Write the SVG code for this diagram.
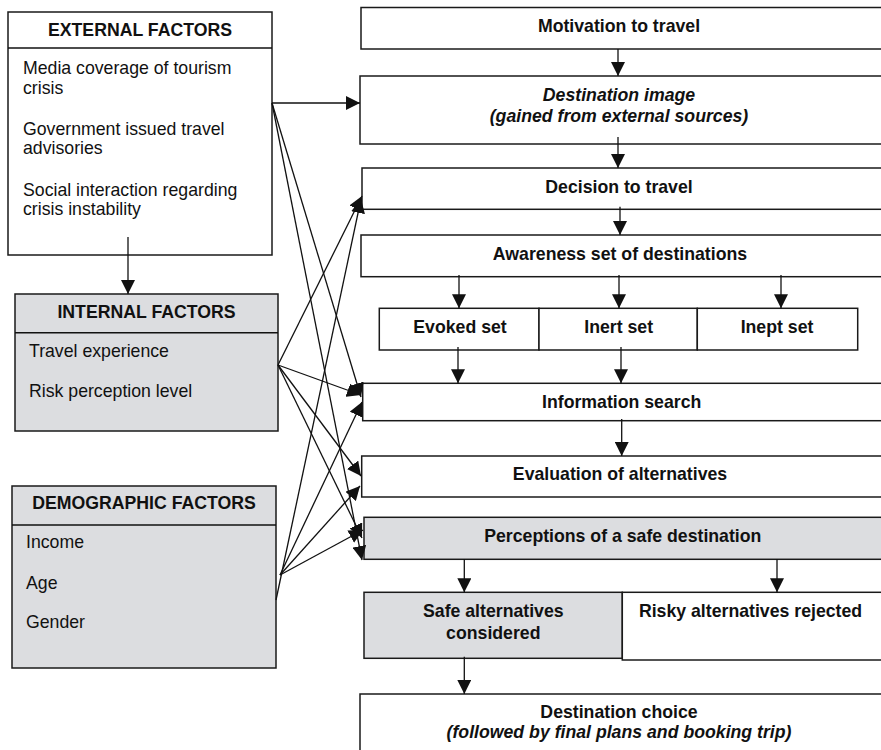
<svg xmlns="http://www.w3.org/2000/svg" width="881" height="750" viewBox="0 0 881 750">
<style>
.box{fill:#fff;stroke:#1a1a1a;stroke-width:1.5}
.g{fill:#dcdde0}
.t{font-family:"Liberation Sans",Arial,sans-serif;font-size:17.7px;fill:#111}
.b{font-weight:bold}
.i{font-style:italic}
.c{text-anchor:middle}
.ln{stroke:#111;stroke-width:1.3;fill:none}
</style>
<defs>
<marker id="ah" markerUnits="userSpaceOnUse" markerWidth="14" markerHeight="14" viewBox="0 0 12 12" refX="12" refY="6" orient="auto">
<path d="M0,0 L12,6 L0,12 z" fill="#111"/>
</marker>
</defs>
<rect width="881" height="750" fill="#fff"/>

<g id="external">
<rect class="box" x="8" y="12" width="264" height="243"/>
<line class="ln" x1="8" y1="48" x2="272" y2="48" style="stroke-width:1.5"/>
<text class="t b c" x="140" y="35.7">EXTERNAL FACTORS</text>
<text class="t" x="23" y="74">Media coverage of tourism</text>
<text class="t" x="23" y="94">crisis</text>
<text class="t" x="23" y="135">Government issued travel</text>
<text class="t" x="23" y="154">advisories</text>
<text class="t" x="23" y="196">Social interaction regarding</text>
<text class="t" x="23" y="215">crisis instability</text>
</g>

<g id="internal">
<rect class="box g" x="15" y="294" width="263" height="137"/>
<line class="ln" x1="15" y1="332.7" x2="278" y2="332.7" style="stroke-width:1.5"/>
<text class="t b c" x="146.5" y="318.3">INTERNAL FACTORS</text>
<text class="t" x="29" y="356.7">Travel experience</text>
<text class="t" x="29" y="396.7">Risk perception level</text>
</g>

<g id="demographic">
<rect class="box g" x="12" y="486" width="264" height="182"/>
<line class="ln" x1="12" y1="525" x2="276" y2="525" style="stroke-width:1.5"/>
<text class="t b c" x="144" y="509">DEMOGRAPHIC FACTORS</text>
<text class="t" x="26" y="548">Income</text>
<text class="t" x="26" y="589">Age</text>
<text class="t" x="26" y="628">Gender</text>
</g>

<g id="motivation">
<rect class="box" x="361" y="7.5" width="522" height="41.5"/>
<text class="t b c" x="619" y="32">Motivation to travel</text>
</g>

<g id="destination-image">
<rect class="box" x="360" y="76" width="523" height="68"/>
<text class="t b i c" x="619" y="100.7">Destination image</text>
<text class="t b i c" x="619" y="121.7">(gained from external sources)</text>
</g>

<g id="decision">
<rect class="box" x="362" y="168" width="521" height="41.3"/>
<text class="t b c" x="619" y="192.7">Decision to travel</text>
</g>

<g id="awareness">
<rect class="box" x="361" y="235" width="522" height="41.7"/>
<text class="t b c" x="620" y="260">Awareness set of destinations</text>
</g>

<g id="evoked">
<rect class="box" x="379.3" y="308.3" width="159.7" height="41.7"/>
<text class="t b c" x="460" y="332.7">Evoked set</text>
</g>
<g id="inert">
<rect class="box" x="539" y="308.3" width="158.3" height="41.7"/>
<text class="t b c" x="618.7" y="332.7">Inert set</text>
</g>
<g id="inept">
<rect class="box" x="697.3" y="308.3" width="160.4" height="41.7"/>
<text class="t b c" x="777" y="332.7">Inept set</text>
</g>

<g id="information-search">
<rect class="box" x="362.7" y="383.3" width="520" height="37.4"/>
<text class="t b c" x="621.7" y="407.7">Information search</text>
</g>

<g id="evaluation">
<rect class="box" x="361.7" y="456" width="521" height="41"/>
<text class="t b c" x="620" y="480">Evaluation of alternatives</text>
</g>

<g id="perceptions">
<rect class="box g" x="364" y="517.3" width="519" height="42"/>
<text class="t b c" x="622.8" y="541.7">Perceptions of a safe destination</text>
</g>

<g id="safe">
<rect class="box g" x="364" y="592.3" width="258.3" height="66"/>
<text class="t b c" x="493.3" y="616.7">Safe alternatives</text>
<text class="t b c" x="493.3" y="639.3">considered</text>
</g>

<g id="risky">
<rect class="box" x="622.3" y="592.3" width="261" height="67.7"/>
<text class="t b c" x="750.5" y="616.7">Risky alternatives rejected</text>
</g>

<g id="destination-choice">
<rect class="box" x="360" y="694" width="523" height="60"/>
<text class="t b c" x="619" y="718.3">Destination choice</text>
<text class="t b i c" x="619" y="738.3">(followed by final plans and booking trip)</text>
</g>

<g id="connectors">
<line class="ln" x1="128" y1="237" x2="128" y2="294" marker-end="url(#ah)"/>
<line class="ln" x1="618" y1="49" x2="618" y2="76" marker-end="url(#ah)"/>
<line class="ln" x1="618" y1="137" x2="618" y2="168" marker-end="url(#ah)"/>
<line class="ln" x1="620" y1="206.7" x2="620" y2="235" marker-end="url(#ah)"/>
<line class="ln" x1="459" y1="275" x2="459" y2="308.3" marker-end="url(#ah)"/>
<line class="ln" x1="619" y1="275" x2="619" y2="308.3" marker-end="url(#ah)"/>
<line class="ln" x1="781" y1="275" x2="781" y2="308.3" marker-end="url(#ah)"/>
<line class="ln" x1="458" y1="347" x2="458" y2="383.3" marker-end="url(#ah)"/>
<line class="ln" x1="621" y1="347" x2="621" y2="383.3" marker-end="url(#ah)"/>
<line class="ln" x1="621.7" y1="419" x2="621.7" y2="456" marker-end="url(#ah)"/>
<line class="ln" x1="464.3" y1="559" x2="464.3" y2="592.3" marker-end="url(#ah)"/>
<line class="ln" x1="777" y1="559" x2="777" y2="592.3" marker-end="url(#ah)"/>
<line class="ln" x1="464.3" y1="656.7" x2="464.3" y2="694" marker-end="url(#ah)"/>

<line class="ln" x1="272" y1="103" x2="360" y2="103" marker-end="url(#ah)"/>
<line class="ln" x1="272" y1="103" x2="361" y2="397" marker-end="url(#ah)"/>
<line class="ln" x1="272" y1="103" x2="362" y2="560" marker-end="url(#ah)"/>

<line class="ln" x1="278" y1="365" x2="362" y2="196" marker-end="url(#ah)"/>
<line class="ln" x1="278" y1="365" x2="361" y2="395" marker-end="url(#ah)"/>
<line class="ln" x1="278" y1="365" x2="361" y2="476" marker-end="url(#ah)"/>
<line class="ln" x1="278" y1="365" x2="362" y2="538" marker-end="url(#ah)"/>

<line class="ln" x1="276" y1="600" x2="361" y2="199" marker-end="url(#ah)"/>
<line class="ln" x1="280" y1="575" x2="362" y2="402" marker-end="url(#ah)"/>
<line class="ln" x1="280" y1="575" x2="360" y2="486" marker-end="url(#ah)"/>
<line class="ln" x1="280" y1="575" x2="363" y2="530" marker-end="url(#ah)"/>
</g>
</svg>
